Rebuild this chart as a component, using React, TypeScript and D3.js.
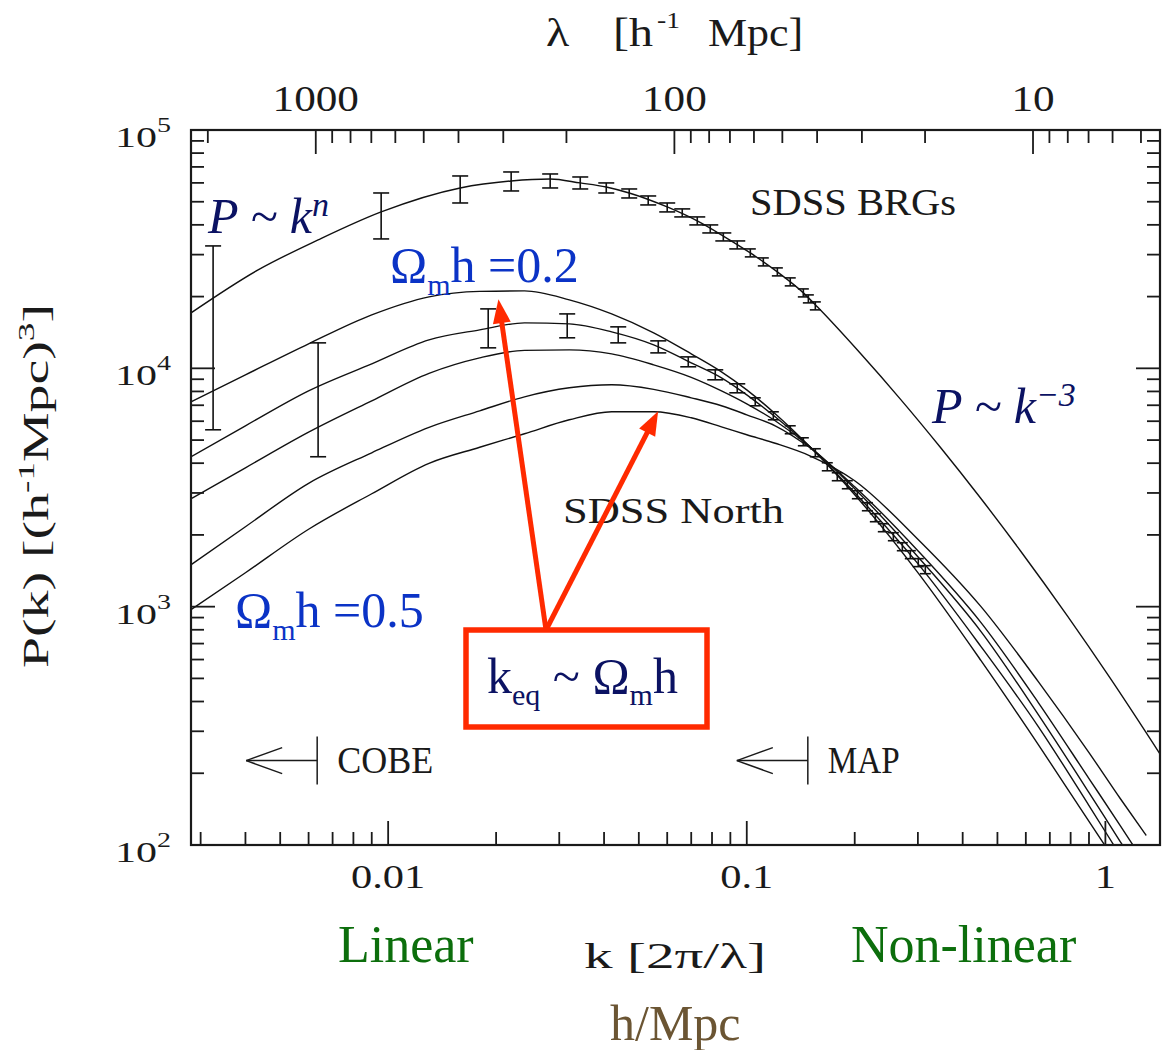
import React from "react";
import * as d3 from "d3";

// ---------------- data ----------------
const kDomain = [0.00282, 1.42];
const pDomain = [100, 100000];

// model P(k) curves, common k grid
const modelK = [0.00282, 0.004, 0.006, 0.009, 0.013, 0.018, 0.024, 0.032, 0.042, 0.055, 0.07, 0.085, 0.1, 0.12, 0.15, 0.2, 0.3, 0.45, 0.65, 0.9, 1.1, 1.3];
const modelOmh02 = [7240, 9390, 12670, 16760, 19950, 21030, 21130, 19380, 16920, 14090, 11500, 9670, 8125, 6450, 4690, 2950, 1390, 594, 264, 125.5, 79.7, 54.7];
const modelB = [4256, 5741, 8047, 10445, 13167, 14501, 15515, 15366, 14223, 12545, 10547, 9125, 7743, 6260, 4690, 3006, 1515, 680, 314, 146.4, 90.4, 60.8];
const modelC = [2837, 3826, 5398, 7306, 9528, 11066, 11898, 11956, 11503, 10344, 9169, 8047, 7099, 6025, 4690, 3124, 1620, 786, 352.5, 166, 103.4, 70.3];
const modelD = [1500, 2165, 3292, 4422, 5657, 6633, 7595, 8285, 8528, 8165, 7522, 6964, 6383, 5741, 4642, 3185, 1717, 857, 396, 190, 120.7, 82];
const modelOmh05 = [971, 1388, 2113, 2977, 3996, 4665, 5315, 6083, 6570, 6570, 6201, 5683, 5264, 4848, 4296, 3376, 1919, 1000, 484.8, 244.2, 156.7, 109.6];

// SDSS BRG model curve
const brgModelK = [0.002822, 0.004339, 0.006378, 0.009561, 0.01588, 0.02203, 0.0283, 0.03433, 0.04057, 0.04701, 0.06, 0.07277, 0.08602, 0.1023, 0.1217, 0.1438, 0.1573, 0.2073, 0.2681, 0.3465, 0.448, 0.5793, 0.7834, 1.0325, 1.4236];
const brgModelP = [17090, 25880, 34580, 45320, 57120, 61130, 62310, 59970, 57680, 54420, 47540, 41540, 35900, 30500, 25380, 20730, 18110, 11560, 7429, 4665, 2864, 1717, 915, 500, 239.6];

// SDSS BRG band powers (error bars)
const brgBarK = [0.00325, 0.009561, 0.01588, 0.02203, 0.0283, 0.03433, 0.04057, 0.04701, 0.05311, 0.06, 0.06608, 0.07277, 0.07911, 0.08602, 0.09408, 0.1023, 0.1112, 0.1217, 0.1322, 0.1438, 0.1485, 0.1553];
const brgBarHi = [32630, 54420, 64140, 66670, 65390, 63520, 59970, 56570, 52870, 49410, 46660, 43180, 39970, 36990, 34240, 31700, 29060, 26390, 23960, 21540, 20330, 19000];
const brgBarLo = [5523, 34910, 49410, 55490, 57120, 56570, 54420, 51860, 48480, 45320, 43180, 39970, 36990, 34240, 31700, 29350, 26900, 24430, 22180, 19940, 18820, 17590];

// SDSS North band powers (error bars)
const northBarK = [0.006378, 0.01901, 0.03157, 0.04381, 0.05665, 0.06868, 0.08168, 0.09408, 0.1056, 0.1186, 0.1322, 0.1438, 0.1553, 0.1677, 0.1788, 0.1907, 0.2034, 0.2169, 0.2283, 0.2403, 0.2563, 0.2715, 0.2858, 0.3008, 0.3147];
const northBarHi = [12790, 17760, 16920, 14930, 13040, 11170, 9856, 8610, 7522, 6570, 5741, 5112, 4598, 4016, 3646, 3376, 3065, 2730, 2455, 2228, 2043, 1855, 1717, 1590, 1486];
const northBarLo = [4256, 12190, 13430, 12790, 11610, 10150, 8950, 7894, 6964, 6083, 5315, 4733, 4256, 3717, 3376, 3124, 2837, 2526, 2272, 2063, 1891, 1717, 1590, 1472, 1375];

// axis tick labels
const pDecades = [2, 3, 4, 5];
const kLabelValues = [0.01, 0.1, 1];
const kLabelTexts = ["0.01", "0.1", "1"];
const lambdaLabelValues = [1000, 100, 10];
const lambdaLabelTexts = ["1000", "100", "10"];

// experiment limits
const cobeK = 0.00634;
const mapK = 0.148;
const limitP = 226;

// red arrow targets (peaks of the two extreme curves)
const arrowTargetK = [0.0203, 0.0566];
const arrowTargetP = [19500, 6600];

// ---------------- drawing ----------------
const NAVY = "#0b1263";
const BLUE = "#0b33c6";
const RED = "#ff2a00";
const GREEN = "#0c6e0c";
const BROWN = "#6b5533";
const INK = "#1a1a1a";
const SERIF = "'Liberation Serif', 'Times New Roman', serif";

export default function App() {
  const L = 191, R = 1160, T = 130, B = 845;
  const x = d3.scaleLog().domain(kDomain).range([L, R]);
  const y = d3.scaleLog().domain(pDomain).range([B, T]);
  const lam = d3.scaleLog().domain([(2 * Math.PI) / kDomain[0], (2 * Math.PI) / kDomain[1]]).range([L, R]);
  const line = d3
    .line<[number, number]>()
    .x((d) => x(d[0]))
    .y((d) => y(d[1]))
    .curve(d3.curveMonotoneX);

  const isMajor = (v: number) => Math.abs(Math.log10(v) - Math.round(Math.log10(v))) < 1e-6;
  const MAJ = 24, MIN = 13;

  const xTicks = x.ticks().filter((v) => x(v) >= L - 0.5 && x(v) <= R + 0.5);
  const yTicks = y.ticks();
  const lTicks = lam.ticks().filter((v) => lam(v) >= L - 0.5 && lam(v) <= R + 0.5);

  const models = [modelOmh02, modelB, modelC, modelD, modelOmh05];

  const bar = (k: number, hi: number, lo: number, i: number, key: string) => {
    const cx = x(k);
    const w = k < 0.1 ? 8 : 5.5;
    return (
      <g key={key + i}>
        <line x1={cx} x2={cx} y1={y(hi)} y2={y(lo)} />
        <line x1={cx - w} x2={cx + w} y1={y(hi)} y2={y(hi)} />
        <line x1={cx - w} x2={cx + w} y1={y(lo)} y2={y(lo)} />
      </g>
    );
  };

  const arrowStart = [546, 630];
  const redArrows = arrowTargetK.map((k, i) => {
    const tx = x(k), ty = y(arrowTargetP[i]);
    const dx = tx - arrowStart[0], dy = ty - arrowStart[1];
    const len = Math.hypot(dx, dy);
    const ux = dx / len, uy = dy / len;
    const hl = 24, hw = 9;
    const bx = tx - ux * hl, by = ty - uy * hl;
    const pts = [
      [tx, ty],
      [bx - uy * hw, by + ux * hw],
      [bx + uy * hw, by - ux * hw],
    ];
    return (
      <g key={"ra" + i}>
        <line x1={arrowStart[0]} y1={arrowStart[1]} x2={bx + ux * 2} y2={by + uy * 2} stroke={RED} strokeWidth={5} />
        <polygon points={pts.map((p) => p.join(",")).join(" ")} fill={RED} />
      </g>
    );
  });

  const limitMarker = (k: number, label: string, key: string) => {
    const bx = x(k), by = y(limitP);
    const tip = bx - 71;
    return (
      <g key={key} stroke={INK} strokeWidth={1.5} fill="none">
        <line x1={bx} x2={bx} y1={by - 24} y2={by + 24} />
        <line x1={tip} x2={bx} y1={by} y2={by} />
        <line x1={tip} x2={tip + 36} y1={by} y2={by - 13} />
        <line x1={tip} x2={tip + 36} y1={by} y2={by + 13} />
        <text x={bx + 20} y={by + 12} fontSize={37} fill={INK} stroke="none" fontFamily={SERIF} textLength={label.length * 24} lengthAdjust="spacingAndGlyphs">
          {label}
        </text>
      </g>
    );
  };

  return (
    <svg width={1166} height={1050} style={{ position: "absolute", left: 0, top: 0, background: "#fff" }} fontFamily={SERIF}>
      <rect x={0} y={0} width={1166} height={1050} fill="#fff" />
      <defs>
        <clipPath id="plotClip">
          <rect x={L} y={T} width={R - L} height={B - T} />
        </clipPath>
      </defs>

      {/* model curves */}
      <g clipPath="url(#plotClip)" fill="none" stroke="#111" strokeWidth={1.4}>
        <path d={line(brgModelK.map((k, i) => [k, brgModelP[i]]) as any) || ""} />
        {models.map((m, j) => (
          <path key={"m" + j} d={line(modelK.map((k, i) => [k, m[i]]) as any) || ""} />
        ))}
      </g>

      {/* error bars */}
      <g stroke="#111" strokeWidth={1.6}>
        {brgBarK.map((k, i) => bar(k, brgBarHi[i], brgBarLo[i], i, "b"))}
        {northBarK.map((k, i) => bar(k, northBarHi[i], northBarLo[i], i, "n"))}
      </g>

      {/* frame and ticks */}
      <g stroke={INK} strokeWidth={1.8}>
        <rect x={L} y={T} width={R - L} height={B - T} fill="none" strokeWidth={2.2} />
        {xTicks.map((v, i) => (
          <line key={"xb" + i} x1={x(v)} x2={x(v)} y1={B} y2={B - (isMajor(v) ? MAJ : MIN)} />
        ))}
        {lTicks.map((v, i) => (
          <line key={"xt" + i} x1={lam(v)} x2={lam(v)} y1={T} y2={T + (isMajor(v) ? MAJ : MIN)} />
        ))}
        {yTicks.map((v, i) => (
          <line key={"yl" + i} x1={L} x2={L + (isMajor(v) ? MAJ : MIN)} y1={y(v)} y2={y(v)} />
        ))}
        {yTicks.map((v, i) => (
          <line key={"yr" + i} x1={R} x2={R - (isMajor(v) ? MAJ : MIN)} y1={y(v)} y2={y(v)} />
        ))}
      </g>

      {/* tick labels */}
      <g fill={INK}>
        {pDecades.map((d) => (
          <g key={"pl" + d} transform={`translate(115,${y(Math.pow(10, d)) + 17}) scale(1.4,1)`}>
            <text fontSize={30}>
              10
              <tspan dy={-15} fontSize={20}>
                {d}
              </tspan>
            </text>
          </g>
        ))}
        {kLabelValues.map((v, i) => (
          <g key={"kl" + i} transform={`translate(${x(v)},888) scale(1.25,1)`}>
            <text fontSize={34} textAnchor="middle">
              {kLabelTexts[i]}
            </text>
          </g>
        ))}
        {lambdaLabelValues.map((v, i) => (
          <g key={"ll" + i} transform={`translate(${lam(v)},111) scale(1.2,1)`}>
            <text fontSize={36} textAnchor="middle">
              {lambdaLabelTexts[i]}
            </text>
          </g>
        ))}
      </g>

      {/* axis titles */}
      <g fill={INK}>
        <g transform="translate(546,46) scale(1.2,1)">
          <text fontSize={40}>λ</text>
        </g>
        <g transform="translate(613,46) scale(1.2,1)">
          <text fontSize={40}>[h</text>
        </g>
        <g transform="translate(657,28) scale(1.15,1)">
          <text fontSize={24}>-1</text>
        </g>
        <g transform="translate(708,46) scale(1.1,1)">
          <text fontSize={40}>Mpc]</text>
        </g>
        <text x={584} y={968} fontSize={36} textLength={182} lengthAdjust="spacingAndGlyphs">
          k [2π/λ]
        </text>
        <g transform="translate(48,486) rotate(-90) scale(1.55,1)">
          <text fontSize={36} textAnchor="middle">
            P(k) [(h
            <tspan dy={-14} fontSize={24}>
              -1
            </tspan>
            <tspan dy={14}>Mpc)</tspan>
            <tspan dy={-14} fontSize={24}>
              3
            </tspan>
            <tspan dy={14}>]</tspan>
          </text>
        </g>
      </g>

      {/* data set labels */}
      <g fill={INK}>
        <text x={750} y={215} fontSize={38} textLength={206} lengthAdjust="spacingAndGlyphs">
          SDSS BRGs
        </text>
        <text x={563} y={523} fontSize={36} textLength={221} lengthAdjust="spacingAndGlyphs">
          SDSS North
        </text>
      </g>

      {limitMarker(cobeK, "COBE", "cobe")}
      {limitMarker(mapK, "MAP", "map")}

      {/* power-law annotations */}
      <text x={208} y={233} fontSize={50} fontStyle="italic" fill={NAVY}>
        P ~ k
        <tspan dy={-17} fontSize={34}>
          n
        </tspan>
      </text>
      <text x={932} y={423} fontSize={50} fontStyle="italic" fill={NAVY}>
        P ~ k
        <tspan dy={-17} fontSize={34}>
          −3
        </tspan>
      </text>

      {/* Omega_m h labels */}
      <text x={390} y={282} fontSize={50} fill={BLUE}>
        Ω
        <tspan dy={13} fontSize={30}>
          m
        </tspan>
        <tspan dy={-13}>h =0.2</tspan>
      </text>
      <text x={235} y={627} fontSize={50} fill={BLUE}>
        Ω
        <tspan dy={13} fontSize={30}>
          m
        </tspan>
        <tspan dy={-13}>h =0.5</tspan>
      </text>

      {/* k_eq box + arrows */}
      {redArrows}
      <rect x={466} y={630} width={241} height={97} fill="none" stroke={RED} strokeWidth={5.5} />
      <text x={487} y={693} fontSize={50} fill={NAVY}>
        k
        <tspan dy={12} fontSize={30}>
          eq
        </tspan>
        <tspan dy={-12}> ~ Ω</tspan>
        <tspan dy={12} fontSize={30}>
          m
        </tspan>
        <tspan dy={-12}>h</tspan>
      </text>

      {/* regime labels */}
      <text x={338} y={962} fontSize={52} fill={GREEN}>
        Linear
      </text>
      <text x={851} y={962} fontSize={52} fill={GREEN}>
        Non-linear
      </text>
      <text x={610} y={1040} fontSize={50} fill={BROWN}>
        h/Mpc
      </text>
    </svg>
  );
}
